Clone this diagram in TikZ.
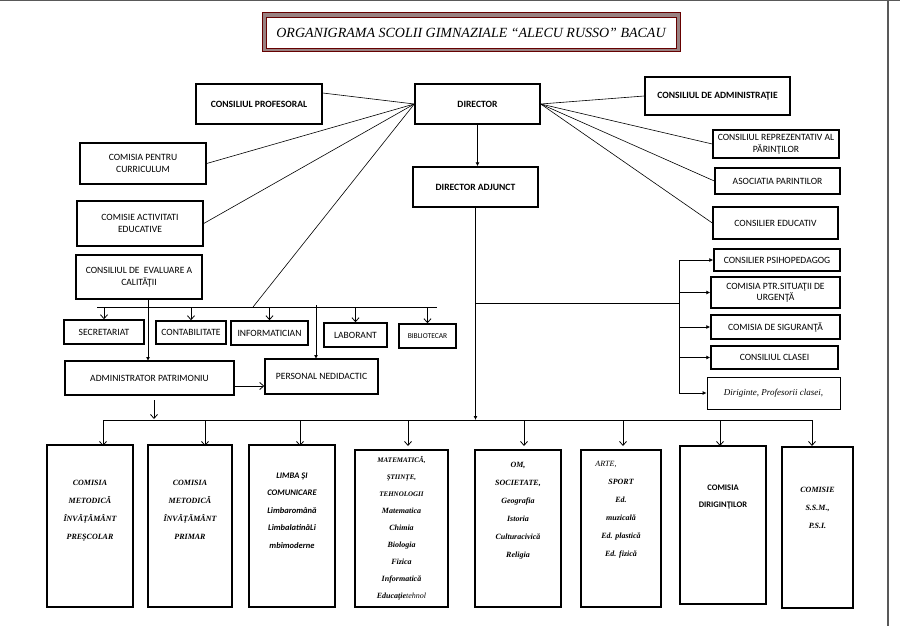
\documentclass[tikz,border=0pt]{standalone}
\usepackage{fontspec}
\setmainfont{Carlito}
\newfontfamily\serf{Liberation Serif}
\usetikzlibrary{arrows.meta}
\begin{document}
\begin{tikzpicture}[x=1pt,y=-1pt,
 bx/.style={draw,line width=1.4pt,align=center,font=\fontsize{9.6}{11.5}\selectfont\bfseries,inner sep=1pt},
 bt/.style={draw,line width=1.4pt,align=center,font=\serf\fontsize{8}{18}\selectfont\bfseries\itshape,inner sep=1pt},
 ln/.style={line width=0.6pt},
 ar/.style={line width=0.8pt,-{Straight Barb[length=4pt,width=7pt]}},
 arf/.style={line width=0.8pt,-{Latex[length=4pt,width=4pt]}}]
\useasboundingbox (0,0) rectangle (900,626);
\fill[white] (0,0) rectangle (900,626);
\draw[gray!70!black,line width=1.5pt] (0,0.7)--(900,0.7);
\draw[gray!70!black,line width=2pt] (888,0)--(888,626);
% title
\draw[fill=white!85!red!60!black,draw=red!40!black,line width=1pt] (262,13) rectangle (680,52);
\node[draw=red!40!black,fill=white,line width=0.8pt,minimum width=410,minimum height=31,font=\serf\fontsize{14}{16}\selectfont\itshape] (title) at (471,32.5) {ORGANIGRAMA SCOLII GIMNAZIALE “ALECU RUSSO” BACAU};
\def\B#1#2#3#4#5#6{\node[bx,minimum width=#4-#2,minimum height=#5-#3] (#1) at ({(#2+#4)/2},{(#3+#5)/2}) {#6};}
\B{cp}{196}{84}{322}{124}{CONSILIUL PROFESORAL}
\B{dir}{415}{84}{540}{124}{DIRECTOR}
\B{ca}{645}{77}{790}{115}{CONSILIUL DE ADMINISTRAŢIE}
\B{cc}{80}{143}{206}{184}{\mdseries COMISIA PENTRU\\\mdseries CURRICULUM}
\B{da}{413}{167}{538}{207}{DIRECTOR ADJUNCT}
\B{crp}{713}{130}{839}{158}{\mdseries CONSILIUL REPREZENTATIV AL\\\mdseries PĂRINŢILOR}
\B{asp}{715}{168}{840}{194}{\mdseries ASOCIATIA PARINTILOR}
\B{ce}{713}{207}{838}{239}{\mdseries CONSILIER EDUCATIV}
\B{cae}{77}{201}{203}{246}{\mdseries COMISIE ACTIVITATI\\\mdseries EDUCATIVE}
\B{cea}{76}{255}{202}{299}{\mdseries CONSILIUL DE\ \ EVALUARE A\\\mdseries CALITĂŢII}
\B{cps}{714}{249}{840}{271}{\mdseries CONSILIER PSIHOPEDAGOG}
\B{csu}{711}{277}{840}{308}{\mdseries COMISIA PTR.SITUAŢII DE\\\mdseries URGENŢĂ}
\B{cs}{711}{315}{840}{339}{\mdseries COMISIA DE SIGURANŢĂ}
\B{ccl}{711}{346}{838}{369}{\mdseries CONSILIUL CLASEI}
\node[draw,line width=0.8pt,minimum width=133,minimum height=32,font=\serf\fontsize{9}{11}\selectfont\itshape] (dpc) at (773.5,393) {Diriginte, Profesorii clasei,};
\B{sec}{64}{320}{144}{344}{\mdseries SECRETARIAT}
\B{con}{156}{321}{226}{344}{\mdseries CONTABILITATE}
\B{inf}{231}{321}{308}{345}{\mdseries INFORMATICIAN}
\B{lab}{324}{323}{387}{347}{\mdseries LABORANT}
\B{bib}{399}{324}{456}{348}{\mdseries\fontsize{7.5}{9}\selectfont BIBLIOTECAR}
\B{adm}{65}{361}{234}{395}{\mdseries ADMINISTRATOR PATRIMONIU}
\B{pn}{265}{359}{378}{394}{\mdseries PERSONAL NEDIDACTIC}
\def\T#1#2#3#4#5#6{\node[bt,minimum width=#4-#2,minimum height=#5-#3] (#1) at ({(#2+#4)/2},{(#3+#5)/2}) {#6};}
\T{b1}{47}{445}{133}{607}{COMISIA\\METODICĂ\\ÎNVĂŢĂMÂNT\\PREŞCOLAR\\[14pt]}
\T{b2}{148}{445}{232}{607}{COMISIA\\METODICĂ\\ÎNVĂŢĂMÂNT\\PRIMAR\\[14pt]}
\node[bt,minimum width=86,minimum height=162,font=\fontsize{8.5}{17.5}\selectfont\bfseries\itshape] (b3) at (292,526) {LIMBA ŞI\\COMUNICARE\\Limbaromână\\LimbalatinăLi\\mbimoderne\\[14pt]};
\node[bt,minimum width=93,minimum height=157,font=\serf\fontsize{8}{17}\selectfont\bfseries\itshape] (b4) at (401.5,528.5) {{\fontsize{7}{8}\selectfont MATEMATICĂ,}\\{\fontsize{7}{8}\selectfont ŞTIINŢE,}\\{\fontsize{7}{8}\selectfont TEHNOLOGII}\\Matematica\\Chimia\\Biologia\\Fizica\\Informatică\\Educaţie\mdseries tehnol};
\T{b5}{475}{450}{561}{607}{OM,\\SOCIETATE,\\Geografia\\Istoria\\Culturacivică\\Religia\\[20pt]}
\node[bt,minimum width=80,minimum height=157] (b6) at (621,528.5) {\hspace*{-30pt}\mdseries ARTE,\\SPORT\\Ed.\\muzicală\\Ed. plastică\\Ed. fizică\\[22pt]};
\node[bt,minimum width=86,minimum height=158,font=\fontsize{8.5}{17}\selectfont\bfseries] (b7) at (723,525) {COMISIA\\DIRIGINŢILOR\\[40pt]};
\T{b8}{782}{447}{853}{608}{COMISIE\\S.S.M.,\\P.S.I.\\[22pt]}
% director lines
\draw[ln] (dir.west) -- (cp.east |- 0,93);
\draw[ln] (dir.west) -- (cc.east);
\draw[ln] (dir.west) -- (cae.east);
\coordinate (bj) at (253,307);
\draw[ln] (dir.west) -- (bj);
\draw[ln] (dir.east) -- (ca.west);
\draw[ln] (dir.east) -- (crp.west);
\draw[ln] (dir.east) -- (asp.west);
\draw[ln] (dir.east) -- (ce.west);
\draw[arf] (dir.south) -- (dir.south |- da.north);
% middle bus
\coordinate (m1) at (97,307); \coordinate (m2) at (437,307);
\draw[ln] (m1) -- (m2);
\foreach \n in {sec,con,inf,lab,bib}{\draw[ar] (\n.north |- m1) -- (\n.north);}
\draw[arf] (148,299) -- (148,361);
\draw[arf] (316,305) -- (316,359);
\draw[ar] (adm.east |- 0,386) -- (pn.west |- 0,386);
\coordinate (s1) at (154,400); \coordinate (s2) at (154,419);
\draw[ar] (s1) -- (s2);
% bottom bus
\coordinate (bb1) at (103,420); \coordinate (bb2) at (813,420);
\draw[ln] (bb1) -- (bb2);
\draw[arf] (da.south) -- (da.south |- bb1);
\foreach \n/\x in {b1/103,b2/205,b3/300,b4/408,b5/524,b6/623,b7/720,b8/812}{\draw[ar] (\x,420) -- (\x,446);}
% right bracket
\coordinate (rb1) at (679,260); \coordinate (rb2) at (679,393);
\draw[ln] (da.south |- 0,303) -- (679,303);
\draw[ln] (rb1) -- (rb2);
\foreach \n in {cps,csu,cs,ccl,dpc}{\draw[arf] (rb1 |- \n.west) -- (\n.west);}
\end{tikzpicture}
\end{document}
